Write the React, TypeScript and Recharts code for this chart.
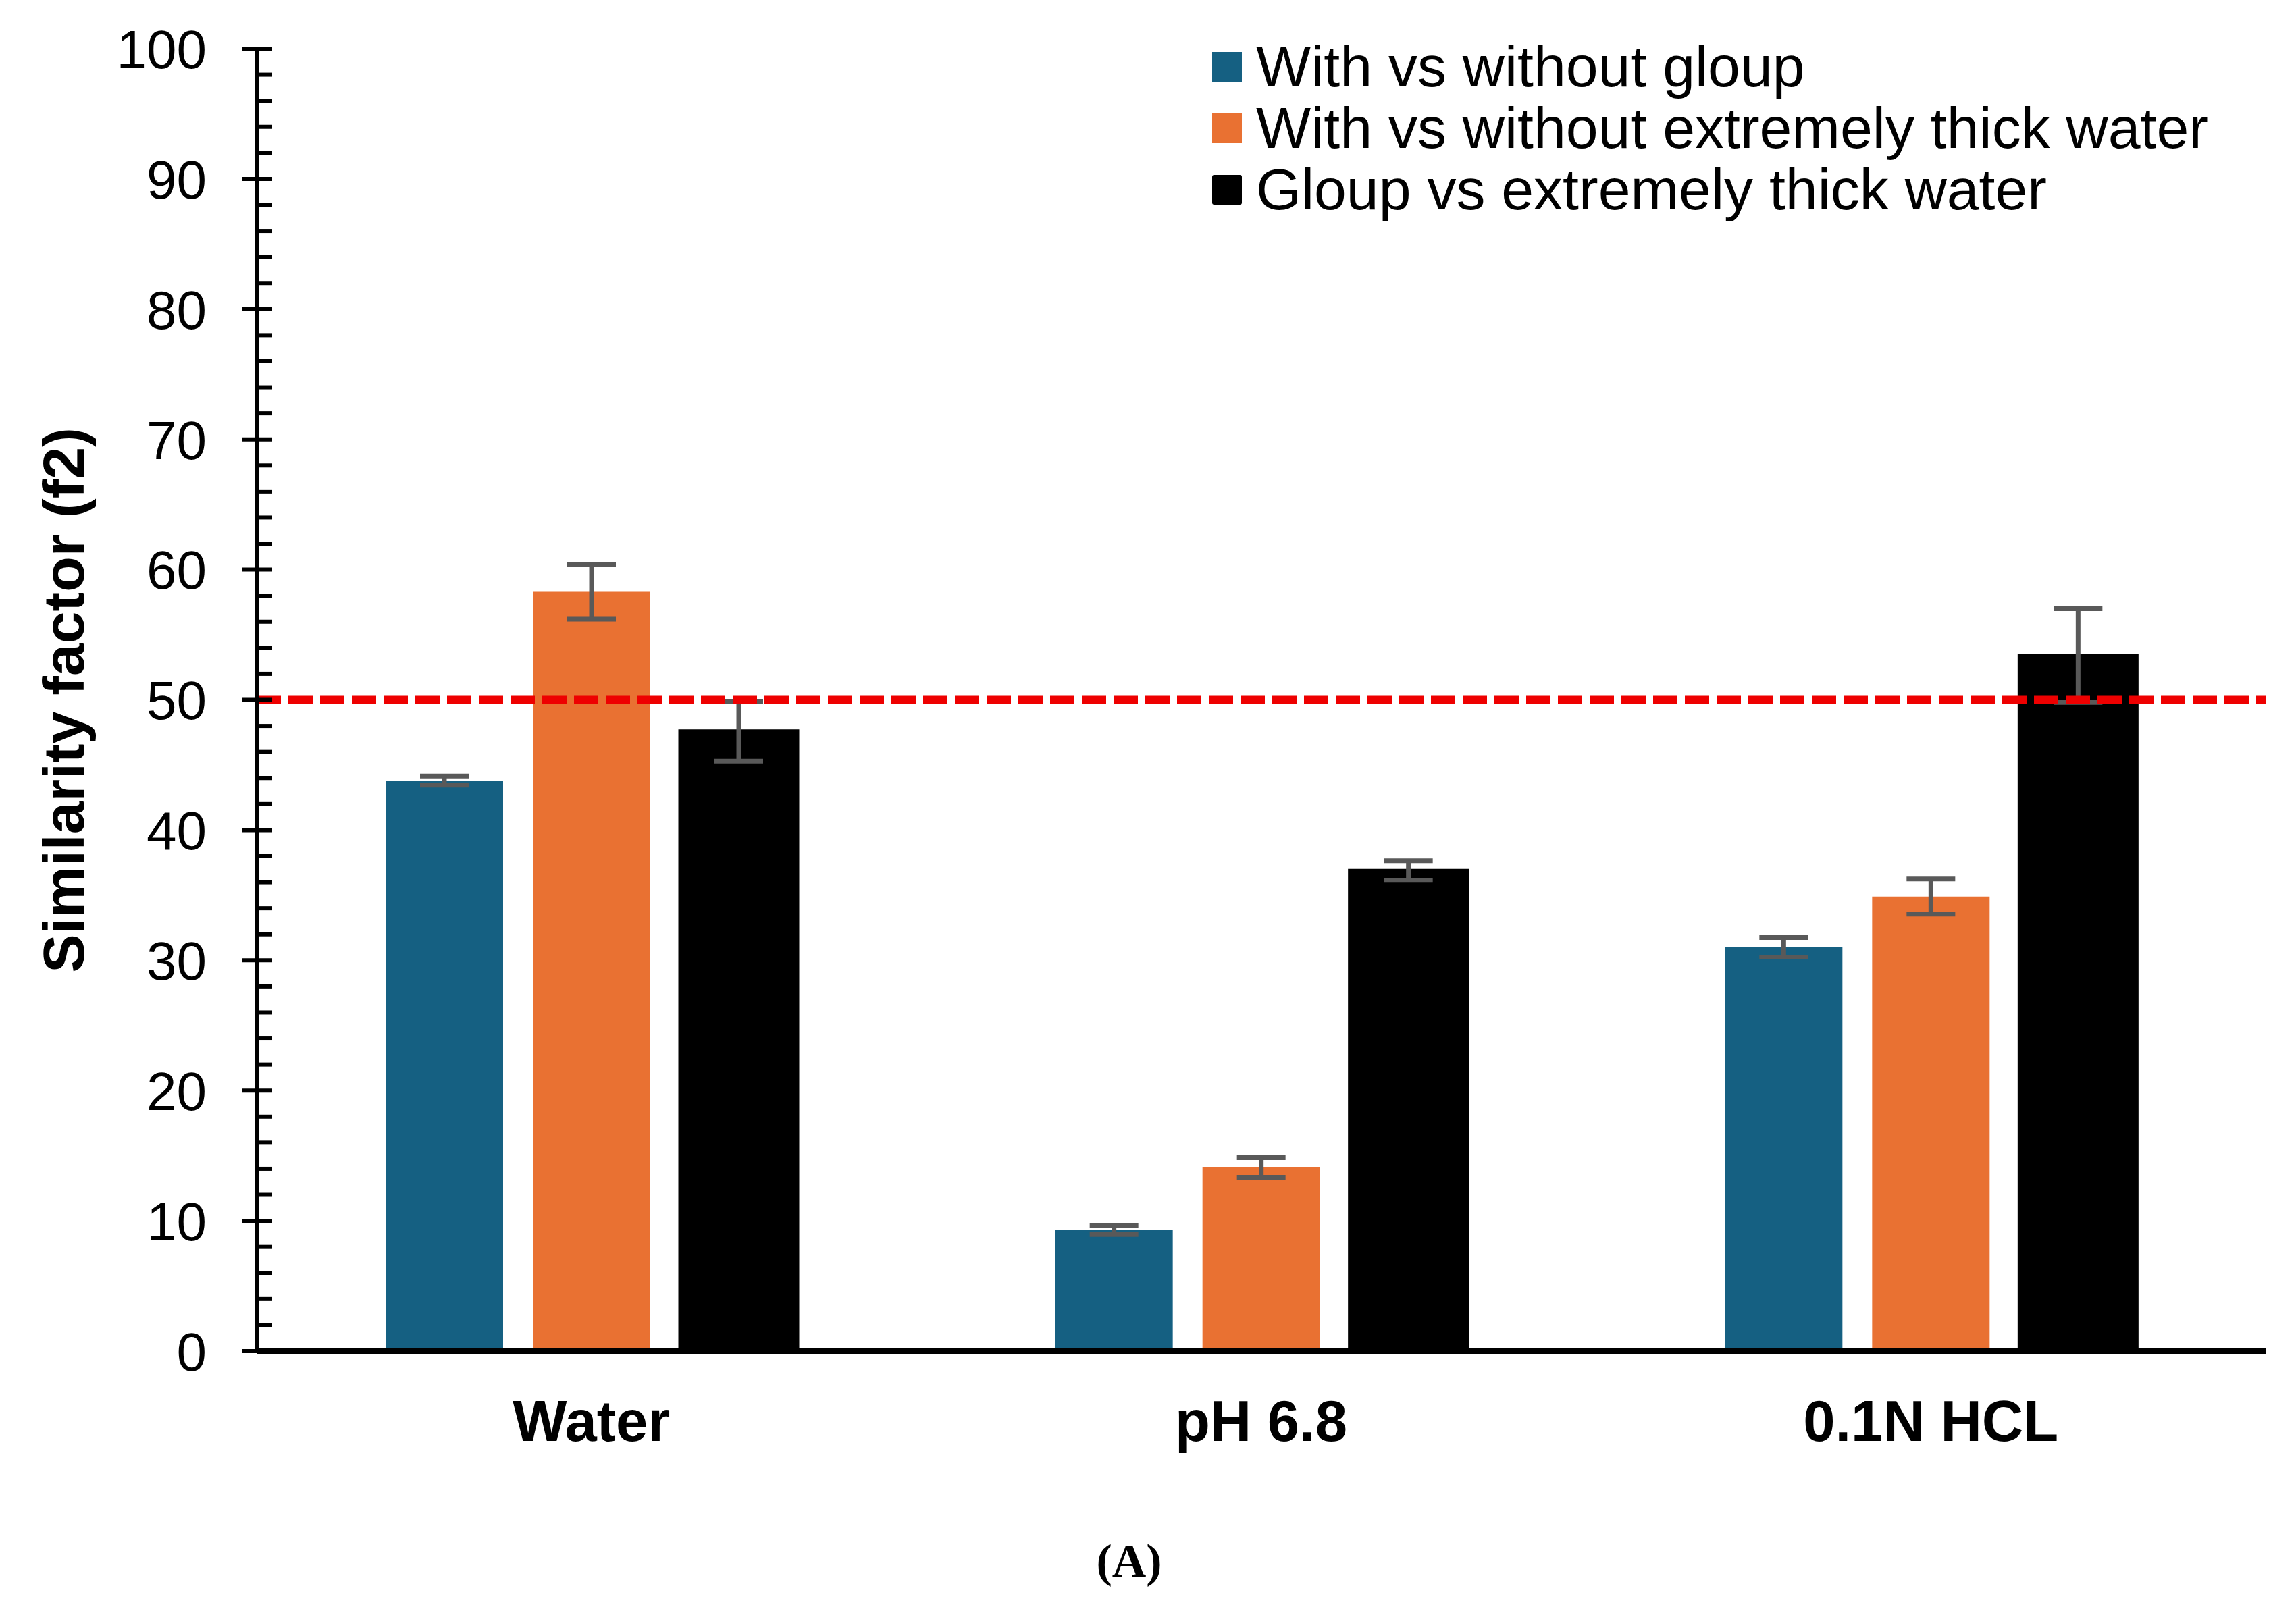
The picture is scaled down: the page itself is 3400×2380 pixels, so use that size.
import { Bar, BarChart, ErrorBar, Legend, ReferenceLine, XAxis, YAxis } from 'recharts'

// f2 similarity factor per dissolution medium
const categories = ['Water', 'pH 6.8', '0.1N HCL']
const withVsWithoutGloup = [43.8, 9.3, 31.0]
const withVsWithoutGloupErr = [0.35, 0.35, 0.75]
const withVsWithoutThick = [58.3, 14.1, 34.9]
const withVsWithoutThickErr = [2.1, 0.75, 1.35]
const gloupVsThick = [47.6, 36.9, 53.4]
const gloupVsThickErr = [2.3, 0.75, 3.6]

const seriesNames = [
  'With vs without gloup',
  'With vs without extremely thick water',
  'Gloup vs extremely thick water',
]
const majorTicks = [0, 10, 20, 30, 40, 50, 60, 70, 80, 90, 100]
const allTicks = [
  0, 2, 4, 6, 8, 10, 12, 14, 16, 18, 20, 22, 24, 26, 28, 30, 32, 34, 36, 38, 40, 42, 44, 46, 48, 50,
  52, 54, 56, 58, 60, 62, 64, 66, 68, 70, 72, 74, 76, 78, 80, 82, 84, 86, 88, 90, 92, 94, 96, 98, 100,
]
const similarityLimit = 50

const BLUE = '#156082'
const ORANGE = '#E97132'
const BLACK = '#000000'
const ERR = '#595959'
const SANS = '"Liberation Sans", Arial, sans-serif'

const W = 3400
const H = 2380
const AXIS_X = 380

const data = categories.map((name, i) => ({
  name,
  gloup: withVsWithoutGloup[i],
  gloupErr: withVsWithoutGloupErr[i],
  thick: withVsWithoutThick[i],
  thickErr: withVsWithoutThickErr[i],
  both: gloupVsThick[i],
  bothErr: gloupVsThickErr[i],
}))

function YTick(props: any) {
  const { y, payload } = props
  const major = majorTicks.includes(payload.value)
  return (
    <g>
      <line
        x1={major ? AXIS_X - 22 : AXIS_X}
        x2={AXIS_X + 23}
        y1={y}
        y2={y}
        stroke="#000"
        strokeWidth={6}
      />
      {major && (
        <text
          x={AXIS_X - 74}
          y={y}
          dy="0.36em"
          textAnchor="end"
          fontFamily={SANS}
          fontSize={80}
          fill="#000"
        >
          {payload.value}
        </text>
      )}
    </g>
  )
}

function XTick(props: any) {
  const { x, payload } = props
  return (
    <text
      x={x}
      y={2134}
      textAnchor="middle"
      fontFamily={SANS}
      fontSize={85}
      fontWeight="bold"
      fill="#000"
    >
      {payload.value}
    </text>
  )
}

function YLabel() {
  return (
    <text
      x={124}
      y={1037}
      transform="rotate(-90 124 1037)"
      textAnchor="middle"
      fontFamily={SANS}
      fontSize={86}
      fontWeight="bold"
      fill="#000"
    >
      Similarity factor (f2)
    </text>
  )
}

const legendColors = [BLUE, ORANGE, BLACK]

function LegendBox() {
  return (
    <div style={{ fontFamily: SANS, fontSize: 86, lineHeight: '91px', color: '#000' }}>
      {seriesNames.map((n, i) => (
        <div key={n} style={{ display: 'flex', alignItems: 'center', whiteSpace: 'nowrap' }}>
          <span
            style={{
              display: 'inline-block',
              width: 44,
              height: 44,
              background: legendColors[i],
              marginRight: 21,
              borderRadius: i === 2 ? 3 : 0,
            }}
          />
          {n}
        </div>
      ))}
    </div>
  )
}

export default function App() {
  return (
    <div style={{ position: 'absolute', left: 0, top: 0, width: W, height: H, background: '#fff' }}>
      <BarChart
        width={W}
        height={H}
        data={data}
        margin={{ top: 72, right: 45, bottom: 229, left: 0 }}
        barSize={174}
        barGap={44}
      >
        <XAxis
          dataKey="name"
          height={150}
          axisLine={{ stroke: '#000', strokeWidth: 8 }}
          tickLine={false}
          tick={<XTick />}
          interval={0}
        />
        <YAxis
          type="number"
          domain={[0, 100]}
          ticks={allTicks}
          interval={0}
          width={AXIS_X}
          axisLine={{ stroke: '#000', strokeWidth: 6 }}
          tickLine={false}
          tick={<YTick />}
          label={<YLabel />}
        />
        <Legend
          layout="vertical"
          align="center"
          verticalAlign="middle"
          content={<LegendBox />}
          wrapperStyle={{ left: 1795, top: 53, width: 1600, height: 280 }}
        />
        <Bar dataKey="gloup" name={seriesNames[0]} fill={BLUE} isAnimationActive={false}>
          <ErrorBar dataKey="gloupErr" width={36} strokeWidth={7} stroke={ERR} />
        </Bar>
        <Bar dataKey="thick" name={seriesNames[1]} fill={ORANGE} isAnimationActive={false}>
          <ErrorBar dataKey="thickErr" width={36} strokeWidth={7} stroke={ERR} />
        </Bar>
        <Bar
          dataKey="both"
          name={seriesNames[2]}
          fill={BLACK}
          stroke={BLACK}
          strokeWidth={5}
          isAnimationActive={false}
        >
          <ErrorBar dataKey="bothErr" width={36} strokeWidth={7} stroke={ERR} />
        </Bar>
        <ReferenceLine
          y={similarityLimit}
          stroke="#EE0000"
          strokeWidth={12}
          strokeDasharray="36 11"
        />
      </BarChart>
      <div
        style={{
          position: 'absolute',
          left: 1472,
          top: 2277,
          width: 400,
          textAlign: 'center',
          fontFamily: '"Liberation Serif", "Times New Roman", serif',
          fontWeight: 'bold',
          fontSize: 70,
          lineHeight: '70px',
          color: '#000',
        }}
      >
        (A)
      </div>
    </div>
  )
}
